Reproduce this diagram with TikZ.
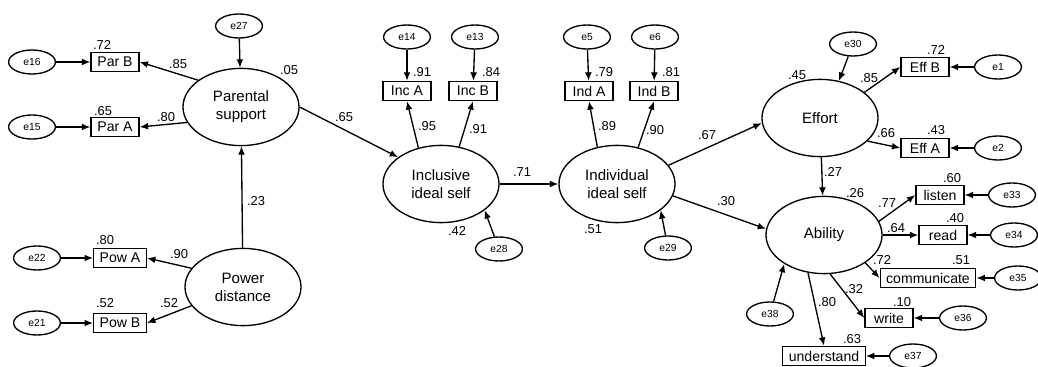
\documentclass[tikz,border=0pt]{standalone}
\usepackage{fontspec}
\setmainfont{Liberation Sans}
\usepackage{tikz}
\usetikzlibrary{shapes.geometric,arrows.meta}

\tikzset{
  latent/.style={ellipse, draw, minimum width=2.9cm, minimum height=1.93cm,
    inner sep=0pt, align=center, font=\fontsize{10.7}{12.8}\selectfont},
  obs/.style={rectangle, draw, minimum width=1.2cm, minimum height=0.48cm,
    inner xsep=0.15cm, inner ysep=0pt, font=\fontsize{10}{12}\selectfont},
  err/.style={ellipse, draw, minimum width=1.17cm, minimum height=0.6cm,
    inner sep=0pt, font=\fontsize{7.3}{9}\selectfont},
  coef/.style={inner sep=0pt, font=\fontsize{9.2}{11}\selectfont},
}

\begin{document}
\begin{tikzpicture}[x=0.025cm,y=-0.025cm,line width=0.95pt,
    >={Latex[length=2.1mm,width=1.7mm]}]
  \useasboundingbox (0,0) rectangle (1038,367);

  % Define the latent variables
  \node[latent] (parsup) at (241,107) {Parental\\support};
  \node[latent] (power) at (243,287) {Power\\distance};
  \node[latent] (incl) at (441,184) {Inclusive\\ideal self};
  \node[latent] (indiv) at (617,184) {Individual\\ideal self};
  \node[latent] (effort) at (820,118) {Effort};
  \node[latent] (ability) at (824,235) {Ability};

  % Define the indicators
  \node[obs] (parb) at (115,62) {Par B};
  \node[obs] (para) at (115,127) {Par A};
  \node[obs] (powa) at (120,258) {Pow A};
  \node[obs] (powb) at (120,323) {Pow B};
  \node[obs] (inca) at (407,91) {Inc A};
  \node[obs] (incb) at (473,91) {Inc B};
  \node[obs] (inda) at (589,91) {Ind A};
  \node[obs] (indb) at (654,91) {Ind B};
  \node[obs] (effb) at (925,67) {Eff B};
  \node[obs] (effa) at (925,148) {Eff A};
  \node[obs] (listen) at (940,195) {listen};
  \node[obs] (read) at (943,235) {read};
  \node[obs] (comm) at (928,278) {communicate};
  \node[obs] (write) at (889,318) {write};
  \node[obs] (underst) at (824,356) {understand};

  % Define the error terms
  \node[err] (e27) at (239,26) {e27};
  \node[err] (e16) at (32,62) {e16};
  \node[err] (e15) at (32,127) {e15};
  \node[err] (e22) at (37,258) {e22};
  \node[err] (e21) at (37,323) {e21};
  \node[err] (e14) at (407,37) {e14};
  \node[err] (e13) at (475,37) {e13};
  \node[err] (e28) at (499,249) {e28};
  \node[err] (e5) at (587,37) {e5};
  \node[err] (e6) at (655,37) {e6};
  \node[err] (e29) at (668,248) {e29};
  \node[err] (e30) at (853,44) {e30};
  \node[err] (e1) at (998,67) {e1};
  \node[err] (e2) at (998,148) {e2};
  \node[err] (e33) at (1012,195) {e33};
  \node[err] (e34) at (1014,235) {e34};
  \node[err] (e35) at (1018,278) {e35};
  \node[err] (e36) at (963,318) {e36};
  \node[err] (e37) at (913,356) {e37};
  \node[err] (e38) at (770,314) {e38};

  % Structural paths
  \draw[->] (parsup.east) -- (incl.148);
  \draw[->] (power) -- (parsup);
  \draw[->] (incl) -- (indiv);
  \draw[->] (indiv.20) -- (effort.185);
  \draw[->] (indiv.-12) -- (ability.174);
  \draw[->] (effort) -- (ability);

  % Measurement paths
  \draw[->] (parsup.148) -- (parb.east);
  \draw[->] (parsup.196) -- (para.east);
  \draw[->] (power.160) -- (powa.east);
  \draw[->] (power.200) -- (powb.east);
  \draw[->] (incl.122) -- (inca.south);
  \draw[->] (incl.64) -- (incb.south);
  \draw[->] (indiv.118) -- (inda.south);
  \draw[->] (indiv.60) -- (indb.south);
  \draw[->] (effort.30) -- (effb.west);
  \draw[->] (effort.-26) -- (effa.west);
  \draw[->] (ability.14) -- (listen.west);
  \draw[->] (ability) -- (read);
  \draw[->] (ability.-34) -- (comm.west);
  \draw[->] (ability.-81) -- (write.west);
  \draw[->] (ability.-113) -- (underst.north);

  % Error paths
  \draw[->] (e27) -- (parsup);
  \draw[->] (e16) -- (parb);
  \draw[->] (e15) -- (para);
  \draw[->] (e22) -- (powa);
  \draw[->] (e21) -- (powb);
  \draw[->] (e14) -- (inca);
  \draw[->] (e13) -- (incb);
  \draw[->] (e28) -- (incl.-31);
  \draw[->] (e5) -- (inda);
  \draw[->] (e6) -- (indb);
  \draw[->] (e29) -- (indiv.-31);
  \draw[->] (e30) -- (effort.63);
  \draw[->] (e1) -- (effb);
  \draw[->] (e2) -- (effa);
  \draw[->] (e33) -- (listen);
  \draw[->] (e34) -- (read);
  \draw[->] (e35) -- (comm);
  \draw[->] (e36) -- (write);
  \draw[->] (e37) -- (underst);
  \draw[->] (e38) -- (ability.-144);

  % Squared multiple correlations
  \node[coef] (rparb) at (102,45) {.72};
  \node[coef] (rpara) at (103,111) {.65};
  \node[coef] (rparsup) at (289,70) {.05};
  \node[coef] (rpowa) at (105,240) {.80};
  \node[coef] (rpowb) at (105,303) {.52};
  \node[coef] (rinca) at (422,72) {.91};
  \node[coef] (rincb) at (491,72) {.84};
  \node[coef] (rincl) at (457,231) {.42};
  \node[coef] (rinda) at (604,72) {.79};
  \node[coef] (rindb) at (671,72) {.81};
  \node[coef] (rindiv) at (593,229) {.51};
  \node[coef] (reffort) at (797,75) {.45};
  \node[coef] (reffb) at (936,50) {.72};
  \node[coef] (reffa) at (936,130) {.43};
  \node[coef] (rability) at (855,193) {.26};
  \node[coef] (rlisten) at (952,178) {.60};
  \node[coef] (rread) at (955,218) {.40};
  \node[coef] (rcomm) at (961,260) {.51};
  \node[coef] (rwrite) at (902,302) {.10};
  \node[coef] (runderst) at (852,339) {.63};

  % Path coefficients
  \node[coef] (wparb) at (178,64) {.85};
  \node[coef] (wpara) at (166,117) {.80};
  \node[coef] (wparincl) at (344,117) {.65};
  \node[coef] (wpowpar) at (256,201) {.23};
  \node[coef] (wpowa) at (179,254) {.90};
  \node[coef] (wpowb) at (169,303) {.52};
  \node[coef] (winca) at (427,126) {.95};
  \node[coef] (wincb) at (478,129) {.91};
  \node[coef] (winclind) at (522,172) {.71};
  \node[coef] (winda) at (607,126) {.89};
  \node[coef] (windb) at (655,130) {.90};
  \node[coef] (windeff) at (707,135) {.67};
  \node[coef] (windabl) at (726,201) {.30};
  \node[coef] (weffb) at (869,78) {.85};
  \node[coef] (weffa) at (886,133) {.66};
  \node[coef] (weffabl) at (833,172) {.27};
  \node[coef] (wlisten) at (887,203) {.77};
  \node[coef] (wread) at (896,228) {.64};
  \node[coef] (wcomm) at (882,260) {.72};
  \node[coef] (wwrite) at (854,289) {.32};
  \node[coef] (wunderst) at (827,302) {.80};

\end{tikzpicture}
\end{document}
